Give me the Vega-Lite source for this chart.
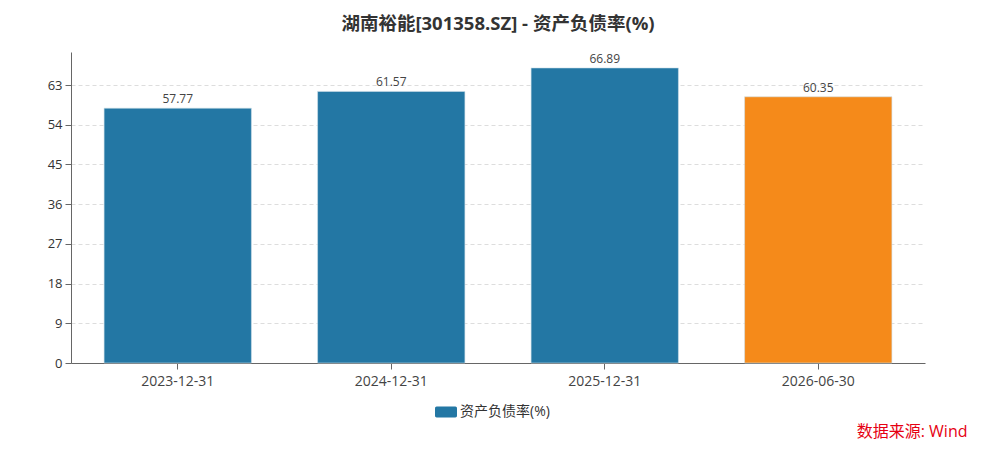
{
  "$schema": "https://vega.github.io/schema/vega-lite/v6.json",
  "width": 854,
  "height": 311,
  "autosize": {"type": "none"},
  "padding": {"left": 71, "top": 52, "right": 71, "bottom": 88},
  "background": "#ffffff",
  "config": {
    "font": "Open Sans, Noto Sans CJK SC",
    "view": {"stroke": null}
  },
  "title": {
    "text": "湖南裕能[301358.SZ] - 资产负债率(%)",
    "font": "Open Sans, Noto Sans CJK SC",
    "fontSize": 18.5,
    "fontWeight": "bold",
    "color": "#333333",
    "anchor": "middle",
    "frame": "group",
    "offset": 19
  },
  "data": {
    "values": [
      {"date": "2023-12-31", "value": 57.77, "series": "资产负债率(%)"},
      {"date": "2024-12-31", "value": 61.57, "series": "资产负债率(%)"},
      {"date": "2025-12-31", "value": 66.89, "series": "资产负债率(%)"},
      {"date": "2026-06-30", "value": 60.35, "series": "资产负债率(%)"}
    ]
  },
  "encoding": {
    "x": {
      "field": "date",
      "type": "ordinal",
      "sort": null,
      "scale": {"paddingInner": 0.31, "paddingOuter": 0.155},
      "axis": {
        "title": "数据来源: Wind",
        "titleColor": "#e60012",
        "titleFontSize": 16,
        "titleFontWeight": "normal",
        "titleAlign": "right",
        "titleAnchor": null,
        "titleX": 896,
        "titleY": 68,
        "titleBaseline": "middle",
        "labelAngle": 0,
        "labelFontSize": 14,
        "labelColor": "#444444",
        "labelPadding": 5,
        "domainColor": "#666666",
        "tickColor": "#666666",
        "tickSize": 6,
        "grid": false
      }
    },
    "y": {
      "field": "value",
      "type": "quantitative",
      "scale": {"domain": [0, 70.5], "nice": false},
      "axis": {
        "title": null,
        "values": [0, 9, 18, 27, 36, 45, 54, 63],
        "labelFontSize": 13,
        "labelColor": "#333333",
        "labelPadding": 3,
        "domainColor": "#666666",
        "tickColor": "#666666",
        "tickSize": 6,
        "grid": true,
        "gridColor": "#dddddd",
        "gridDash": [4, 3]
      }
    }
  },
  "layer": [
    {
      "mark": {"type": "bar", "stroke": "#cfe0ea", "strokeWidth": 0.6},
      "encoding": {
        "color": {
          "condition": {"test": "datum.date === '2026-06-30'", "value": "#f58a1a"},
          "field": "series",
          "type": "nominal",
          "scale": {"range": ["#2377a4"]},
          "legend": {
            "title": null,
            "orient": "none",
            "legendX": 368,
            "legendY": 353,
            "direction": "horizontal",
            "labelFontSize": 14,
            "labelColor": "#333333",
            "symbolType": "M-1.7,-1H1.7A0.3,0.3 0 0 1 2,-0.7V0.7A0.3,0.3 0 0 1 1.7,1H-1.7A0.3,0.3 0 0 1 -2,0.7V-0.7A0.3,0.3 0 0 1 -1.7,-1Z",
            "symbolSize": 121,
            "symbolStrokeWidth": 0,
            "symbolOpacity": 1,
            "labelOffset": 7
          }
        }
      }
    },
    {
      "mark": {"type": "text", "dy": -9, "fontSize": 12, "color": "#444444"},
      "encoding": {
        "text": {"field": "value", "type": "quantitative", "format": ".2f"}
      }
    }
  ]
}
